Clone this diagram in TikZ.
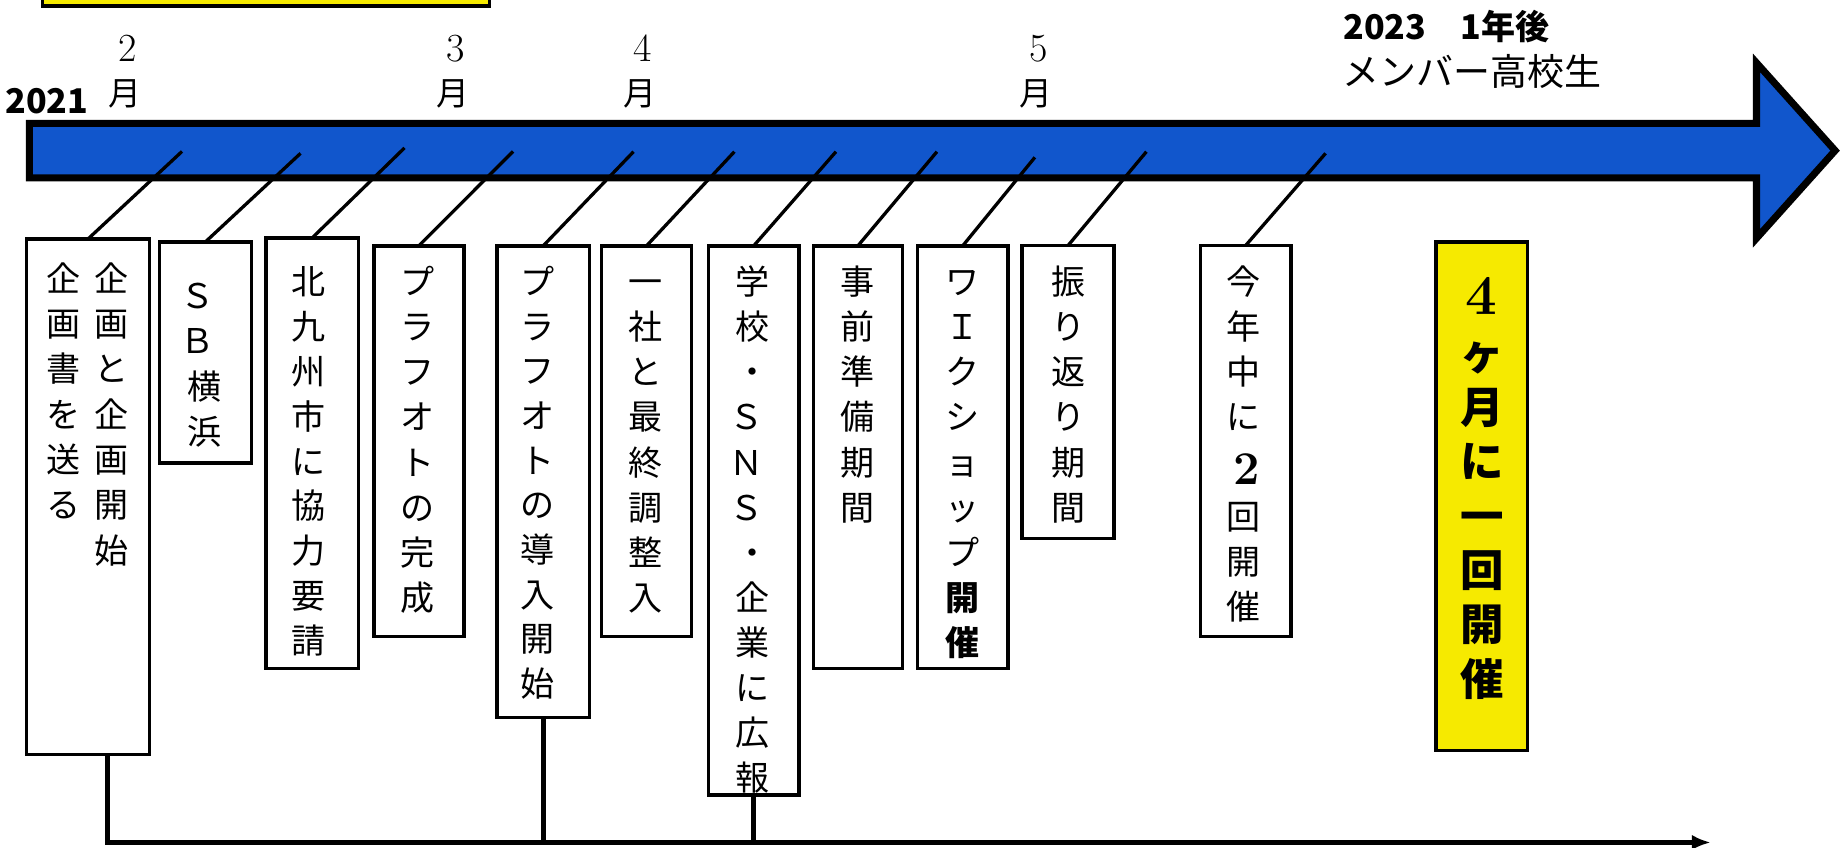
\documentclass[tikz,border=0pt]{standalone}
\usepackage{fontspec}
\newfontfamily\jp{Noto Sans CJK JP}
\usetikzlibrary{arrows.meta}
\definecolor{barblue}{RGB}{17,86,204}
\definecolor{hiyellow}{RGB}{246,234,0}
\newcommand\vstack[6]{%
  \foreach \ch [count=\i] in {#6}{%
    \node[#5] (#1\i) at (#2,{#3+(\i-1)*#4}) {\ch};}}
\begin{document}
\begin{tikzpicture}[x=1pt,y=-1pt,
  box/.style={draw=black, line width=3pt, fill=white, outer sep=0pt, inner sep=0pt, anchor=north west},
  hibox/.style={box, fill=hiyellow},
  tick/.style={line width=2.8pt},
  link/.style={line width=4pt},
  vch/.style={inner sep=0pt, anchor=base, font=\jp\fontsize{29}{29}\selectfont},
  vbig/.style={inner sep=0pt, anchor=base, font=\jp\bfseries\fontsize{37}{37}\selectfont},
  month/.style={inner sep=0pt, anchor=base, font=\rmfamily\fontsize{34}{34}\selectfont},
  monthk/.style={inner sep=0pt, anchor=base, font=\jp\fontsize{28}{28}\selectfont},
  year/.style={inner sep=0pt, anchor=base west, font=\jp\bfseries\fontsize{29}{29}\selectfont}
]
\useasboundingbox (0,0) rectangle (1568,722);

% partially visible box at the top
\node[hibox, minimum width=381pt, minimum height=40pt] (topbox) at (36,-35) {};

% big timeline arrow
\draw[line width=6pt, fill=barblue, line join=miter, miter limit=10]
  (25,105) -- (1496,105) -- (1496,53.5) -- (1563,128.25) -- (1496,203)
  -- (1496,151.5) -- (25,151.5) -- cycle;

% labels above the arrow
\node[year, anchor=base] (y21) at (40,96.5) {2021};
\node[year] (y23) at (1144,34) {2023　1年後};
\node[inner sep=0pt, anchor=base west, font=\jp\fontsize{31.5}{31.5}\selectfont] (mem) at (1143,73) {メンバー高校生};

\node[month] (m2) at (108.5,52.5) {2};  \node[monthk] (m2k) at (106.5,90) {月};
\node[month] (m3) at (388,52.5) {3};    \node[monthk] (m3k) at (386,90) {月};
\node[month] (m4) at (547,52.5) {4};    \node[monthk] (m4k) at (545,90) {月};
\node[month] (m5) at (885,52.5) {5};    \node[monthk] (m5k) at (882.5,90) {月};

% boxes
\node[box, minimum width=105pt, minimum height=439pt]   (b1)  at (22.5,203.5) {};
\node[box, minimum width=78pt,  minimum height=188.5pt] (b2)  at (136,206) {};
\node[box, minimum width=79pt,  minimum height=367pt]   (b3)  at (226.5,202.5) {};
\node[box, minimum width=76.5pt,minimum height=333pt]   (b4)  at (318.5,209.3) {};
\node[box, minimum width=78.5pt,minimum height=401.7pt] (b5)  at (423.5,209.3) {};
\node[box, minimum width=76.5pt,minimum height=333pt]   (b6)  at (512.5,209.3) {};
\node[box, minimum width=77pt,  minimum height=467.7pt] (b7)  at (603.5,209.3) {};
\node[box, minimum width=75.5pt,minimum height=360.2pt] (b8)  at (693,209.3) {};
\node[box, minimum width=77pt,  minimum height=360.2pt] (b9)  at (781.5,209.3) {};
\node[box, minimum width=78.5pt,minimum height=249.5pt] (b10) at (870.5,209) {};
\node[box, minimum width=77pt,  minimum height=333.2pt] (b11) at (1022.5,209) {};
\node[hibox, minimum width=78pt,minimum height=433pt]   (b12) at (1223,206) {};

% ticks from the arrow to the boxes
\foreach \n/\x/\y in {1/155/129, 2/256/130.6, 3/344.5/126, 4/437/129, 5/539.6/129.2,
  6/625.5/129.2, 7/712/129.2, 8/798/129.2, 9/881.4/134, 10/976.4/129.2, 11/1129/130.6}
  {\coordinate (t\n) at (\x,\y);}
\foreach \n in {1,...,11} {\draw[tick] (t\n) -- (b\n.north);}

% box texts
\vstack{b1r}{95}{248}{38.6}{vch}{企,画,と,企,画,開,始}
\vstack{b1l}{54}{248}{38.6}{vch}{企,画,書,を,送,る}
\vstack{b2a}{168}{263}{38.4}{vch}{Ｓ,Ｂ}
\vstack{b2b}{174.5}{340}{38.4}{vch}{横,浜}
\vstack{b3t}{263}{251}{38.2}{vch}{北,九,州,市,に,協,力,要,請}
\vstack{b4t}{356}{251}{38.4}{vch}{プ,ラ,フ,オ,ト,の,完,成}
\vstack{b5t}{458}{251}{38.0}{vch}{プ,ラ,フ,オ,ト,の,導,入,開,始}
\vstack{b6t}{550}{251}{38.4}{vch}{一,社,と,最,終,調,整,入}
\vstack{b7a}{641}{251}{38.4}{vch}{学,校,・}
\vstack{b7b}{635.5}{366.2}{38.4}{vch}{Ｓ,Ｎ,Ｓ}
\vstack{b7c}{641}{481.4}{38.4}{vch}{・,企,業,に,広,報}
\vstack{b8t}{730}{251}{38.4}{vch}{事,前,準,備,期,間}
\vstack{b9t}{820}{251}{38.4}{vch}{ワ,Ｉ,ク,シ,ョ,ッ,プ,{\bfseries 開},{\bfseries 催}}
\vstack{b10t}{910}{251}{38.4}{vch}{振,り,返,り,期,間}
\vstack{b11a}{1059}{251}{38.4}{vch}{今,年,中,に}
\node[vch, font=\rmfamily\bfseries\fontsize{40}{40}\selectfont] (b11n) at (1062,413) {2};
\vstack{b11b}{1059}{451}{38.4}{vch}{回,開,催}
\node[vch, font=\rmfamily\bfseries\fontsize{48}{48}\selectfont] (b12n) at (1262,268) {4};
\vstack{b12t}{1262}{314.3}{46.3}{vbig}{ヶ,月,に,一,回,開,催}

% bottom connector
\coordinate (c1) at (91.5,642.5);
\coordinate (ce) at (1457,717.5);
\draw[link, -{Latex[length=16pt,width=13pt]}] (c1) |- (ce);
\draw[link] (b5.south) -- (b5.south |- ce);
\draw[link] (b7.south) -- (b7.south |- ce);
\end{tikzpicture}
\end{document}
